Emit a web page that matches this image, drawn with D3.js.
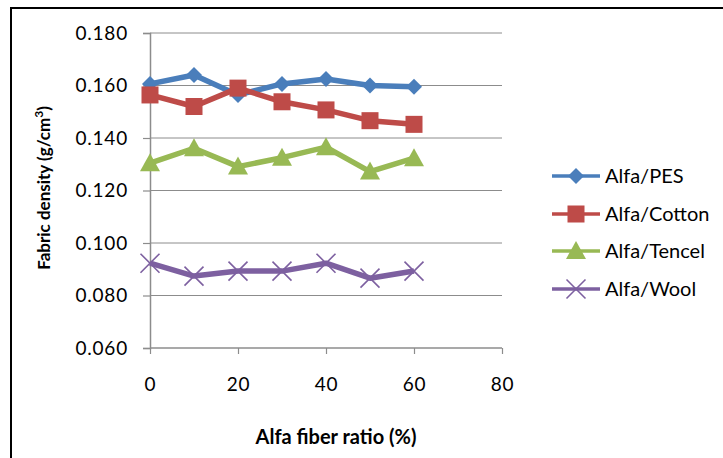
<!DOCTYPE html>
<html>
<head>
<meta charset="utf-8">
<script src="https://cdn.jsdelivr.net/npm/d3@7"></script>
<style>
  body { margin: 0; background: #fff; }
  svg text { font-family: Lato, "Noto Sans", sans-serif; fill: #000; }
</style>
</head>
<body>
<svg id="chart" width="723" height="458"></svg>
<script>
var ratios = [0, 10, 20, 30, 40, 50, 60];
var pes    = [0.1606, 0.1640, 0.1564, 0.1606, 0.1625, 0.1600, 0.1595];
var cotton = [0.1564, 0.1520, 0.1590, 0.1538, 0.1507, 0.1466, 0.1452];
var tencel = [0.1304, 0.1361, 0.1291, 0.1325, 0.1365, 0.1272, 0.1323];
var wool   = [0.0923, 0.0874, 0.0893, 0.0893, 0.0923, 0.0866, 0.0893];
var seriesNames = ["Alfa/PES", "Alfa/Cotton", "Alfa/Tencel", "Alfa/Wool"];
var yTicks = [0.060, 0.080, 0.100, 0.120, 0.140, 0.160, 0.180];
var xTicks = [0, 20, 40, 60, 80];

var colors = ["#4a7ebb", "#be4b48", "#98b954", "#7d60a0"];
var shapes = ["diamond", "square", "triangle", "cross"];
var allData = [pes, cotton, tencel, wool];

var svg = d3.select("#chart");

// outer frame (runs off the right and bottom edges)
svg.append("rect")
	.attr("x", 11).attr("y", 8)
	.attr("width", 730).attr("height", 470)
	.attr("fill", "none")
	.attr("stroke", "#000")
	.attr("stroke-width", 2);

var x = d3.scaleLinear().domain([0, 80]).range([150, 502]);
var y = d3.scaleLinear().domain([0.060, 0.180]).range([348, 33]);

// horizontal grid
svg.append("g")
	.selectAll("line")
	.data(yTicks.slice(1))
	.enter()
	.append("line")
	.attr("x1", x(0)).attr("x2", x(80))
	.attr("y1", function(d) { return y(d); })
	.attr("y2", function(d) { return y(d); })
	.attr("stroke", "#8c8c8c")
	.attr("stroke-width", 1);

// y axis
var yAxis = svg.append("g")
	.attr("transform", "translate(" + x(0) + ",0)")
	.call(d3.axisLeft(y).tickValues(yTicks).tickSize(7).tickPadding(15).tickFormat(d3.format(".3f")));

// x axis
var xAxis = svg.append("g")
	.attr("transform", "translate(0," + y(0.060) + ")")
	.call(d3.axisBottom(x).tickValues(xTicks).tickSize(6).tickPadding(24).tickFormat(d3.format("d")));

[yAxis, xAxis].forEach(function(a) {
	a.select(".domain").attr("stroke", "#8c8c8c").attr("stroke-width", 1.5);
	a.selectAll(".tick line").attr("stroke", "#8c8c8c").attr("stroke-width", 1.2);
	a.selectAll(".tick text").style("font-size", "19px").style("letter-spacing", "0.8px");
});
xAxis.select(".domain").attr("d", "M" + x(0) + ",0H" + x(80));

function marker(g, shape, color, cx, cy) {
	if (shape == "diamond") {
		g.append("path")
			.attr("d", "M" + cx + "," + (cy - 8) + "L" + (cx + 8) + "," + cy + "L" + cx + "," + (cy + 8) + "L" + (cx - 8) + "," + cy + "Z")
			.attr("fill", color);
	} else if (shape == "square") {
		g.append("rect")
			.attr("x", cx - 8.5).attr("y", cy - 8.5)
			.attr("width", 17).attr("height", 17)
			.attr("fill", color);
	} else if (shape == "triangle") {
		g.append("path")
			.attr("d", "M" + cx + "," + (cy - 10) + "L" + (cx + 10) + "," + (cy + 8) + "L" + (cx - 10) + "," + (cy + 8) + "Z")
			.attr("fill", color);
	} else {
		g.append("path")
			.attr("d", "M" + (cx - 9.5) + "," + (cy - 9.5) + "L" + (cx + 9.5) + "," + (cy + 9.5) + "M" + (cx + 9.5) + "," + (cy - 9.5) + "L" + (cx - 9.5) + "," + (cy + 9.5))
			.attr("stroke", color)
			.attr("stroke-width", 1.6)
			.attr("fill", "none");
	}
}

var line = d3.line()
	.x(function(d, i) { return x(ratios[i]); })
	.y(function(d) { return y(d); });

allData.forEach(function(vals, s) {
	var g = svg.append("g");
	g.append("path")
		.attr("d", line(vals))
		.attr("fill", "none")
		.attr("stroke", colors[s])
		.attr("stroke-width", 5.5)
		.attr("stroke-linejoin", "round");
	vals.forEach(function(v, i) {
		marker(g, shapes[s], colors[s], x(ratios[i]), y(v));
	});
});

// legend
var legendY = [176, 214, 251, 289];
seriesNames.forEach(function(name, s) {
	var g = svg.append("g");
	g.append("line")
		.attr("x1", 552).attr("x2", 600)
		.attr("y1", legendY[s]).attr("y2", legendY[s])
		.attr("stroke", colors[s])
		.attr("stroke-width", 3.5);
	marker(g, shapes[s], colors[s], 576, legendY[s]);
	g.append("text")
		.attr("x", 605).attr("y", legendY[s] + 7)
		.style("font-size", "20px")
		.text(name);
});

// axis titles
svg.append("text")
	.attr("x", 336).attr("y", 444)
	.attr("text-anchor", "middle")
	.style("font-size", "20px")
	.style("font-weight", "bold")
	.text("Alfa fiber ratio (%)");

var yt = svg.append("text")
	.attr("transform", "translate(50,188) rotate(-90)")
	.attr("text-anchor", "middle")
	.style("font-size", "17px")
	.style("font-weight", "bold");
yt.append("tspan").text("Fabric density (g/cm");
yt.append("tspan").attr("dy", -7).style("font-size", "12px").text("3");
yt.append("tspan").attr("dy", 7).text(")");
</script>
</body>
</html>
